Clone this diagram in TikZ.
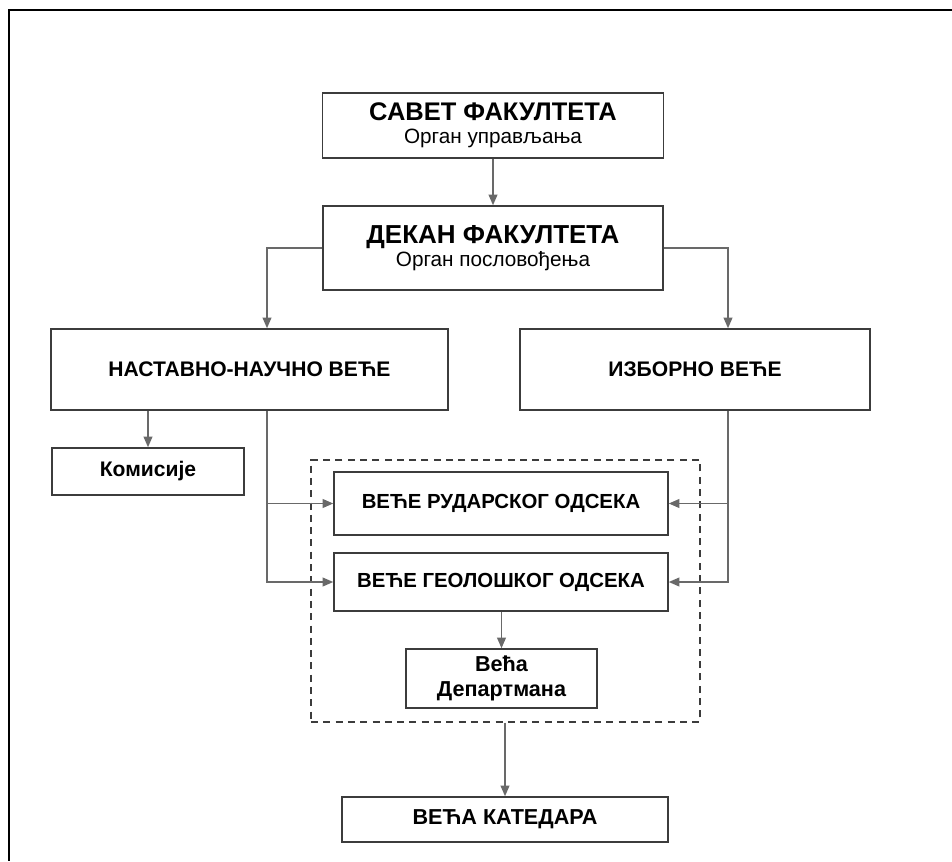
\documentclass[tikz,border=0pt]{standalone}
\usepackage{fontspec}
\setmainfont{Liberation Sans}
\usetikzlibrary{arrows.meta}

\definecolor{boxline}{RGB}{60,60,60}
\definecolor{conn}{RGB}{105,105,105}

\tikzset{
  box/.style={shape=rectangle, draw=boxline, line width=0.9pt, fill=white, align=center, inner sep=2pt},
  mid/.style={font=\fontsize{12}{15}\selectfont\bfseries},
  midsmall/.style={font=\fontsize{11.6}{14}\selectfont\bfseries},
  link/.style={draw=conn, line width=0.8pt},
}

\begin{document}
\begin{tikzpicture}[x=0.02cm, y=-0.02cm, >={Triangle[length=6pt,width=5pt]}]
	\useasboundingbox (0,0) rectangle (952,861);
	\draw[line width=1.3pt] (952,10) -| (9,861);
	% dashed frame round the odsek boxes
	\node[draw=boxline, line width=0.8pt, dash pattern=on 4pt off 3pt, minimum width=7.78cm, minimum height=5.24cm] (odsek) at (505.5,591) {};
	\node[box, minimum width=6.82cm, minimum height=1.30cm] (savet) at (493,125.5) {\fontsize{14.5}{17}\selectfont\bfseries САВЕТ ФАКУЛТЕТА\\[1pt]{\fontsize{11.8}{13}\selectfont\mdseries Орган управљања}};
	\node[box, minimum width=6.80cm, minimum height=1.68cm] (dekan) at (493,248) {\fontsize{14.8}{17}\selectfont\bfseries ДЕКАН ФАКУЛТЕТА\\[1pt]{\fontsize{11.8}{13}\selectfont\mdseries Орган пословођења}};
	\node[box, mid, minimum width=7.94cm, minimum height=1.62cm] (nastavno) at (249.5,369.5) {НАСТАВНО-НАУЧНО ВЕЋЕ};
	\node[box, mid, minimum width=7.00cm, minimum height=1.62cm] (izborno) at (695,369.5) {ИЗБОРНО ВЕЋЕ};
	\node[box, mid, minimum width=3.84cm, minimum height=0.94cm] (komisije) at (148,471.5) {Комисије};
	\node[box, midsmall, minimum width=6.68cm, minimum height=1.26cm] (rud) at (501,503.5) {ВЕЋЕ РУДАРСКОГ ОДСЕКА};
	\node[box, midsmall, minimum width=6.68cm, minimum height=1.16cm] (geo) at (501,582) {ВЕЋЕ ГЕОЛОШКОГ ОДСЕКА};
	\node[box, mid, minimum width=3.82cm, minimum height=1.18cm, font=\fontsize{12.3}{14}\selectfont\bfseries] (dep) at (501.5,678.5) {Већа\\Департмана};
	\node[box, mid, minimum width=6.52cm, minimum height=0.90cm, font=\fontsize{12.3}{15}\selectfont\bfseries] (katedra) at (505,819.5) {ВЕЋА КАТЕДАРА};
	\coordinate (nv) at (267,410);
	\coordinate (iv) at (728,410);
	\draw[link, ->] (savet) -- (dekan);
	\draw[link, ->] (dekan.west) -| (nastavno.north -| nv);
	\draw[link, ->] (dekan.east) -| (izborno.north -| iv);
	\draw[link, ->] (nastavno.south -| komisije.north) -- (komisije.north);
	\draw[link, ->] (nastavno.south -| nv) |- (rud.west);
	\draw[link, ->] (nastavno.south -| nv) |- (geo.west);
	\draw[link, ->] (izborno.south -| iv) |- (rud.east);
	\draw[link, ->] (izborno.south -| iv) |- (geo.east);
	\draw[link, ->] (geo.south -| dep.north) -- (dep.north);
	\draw[link, ->] (odsek.south -| katedra.north) -- (katedra.north);
\end{tikzpicture}
\end{document}
